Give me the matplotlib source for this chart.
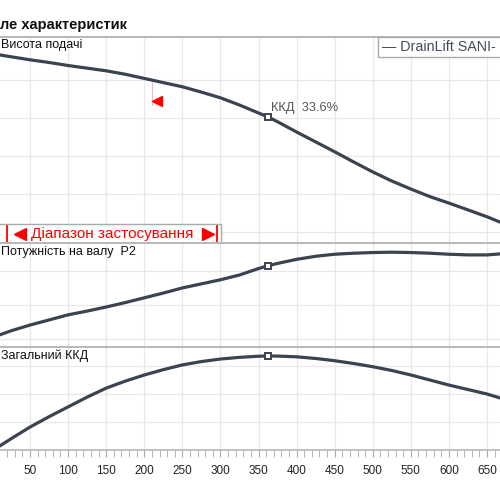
import matplotlib.pyplot as plt
from matplotlib.patches import Rectangle
from matplotlib.transforms import blended_transform_factory
from matplotlib.ticker import MultipleLocator

plt.rcParams["font.family"] = ["Liberation Sans", "DejaVu Sans"]

# flow values (x axis) and the three curves
flow = [10, 25, 50, 75, 100, 125, 150, 175, 200, 225, 250, 275, 300, 325, 350, 362,
        375, 400, 425, 450, 475, 500, 525, 550, 575, 600, 625, 650, 667]
head = [4.66, 4.61, 4.53, 4.46, 4.38, 4.31, 4.24, 4.15, 4.04, 3.93, 3.82, 3.68, 3.53, 3.34, 3.13, 3.03,
        2.90, 2.63, 2.37, 2.11, 1.84, 1.58, 1.34, 1.13, 0.93, 0.76, 0.58, 0.40, 0.26]
power = [0.12, 0.24, 0.41, 0.56, 0.71, 0.82, 0.94, 1.07, 1.21, 1.35, 1.50, 1.62, 1.74, 1.88, 2.07, 2.15,
         2.22, 2.34, 2.43, 2.49, 2.52, 2.54, 2.55, 2.54, 2.52, 2.49, 2.47, 2.47, 2.50]
eff = [1.4, 4.0, 8.2, 11.9, 15.4, 18.9, 22.1, 24.6, 26.8, 28.7, 30.4, 31.6, 32.5, 33.1, 33.5, 33.6,
       33.55, 33.3, 32.7, 31.9, 30.9, 29.75, 28.4, 26.8, 25.0, 23.2, 21.6, 20.0, 18.6]

duty_flow = 362
duty_head = 3.03
duty_power = 2.15
duty_eff = 33.6

range_min, range_max = 20, 295.5
limit_flow = 210

xticks = [50, 100, 150, 200, 250, 300, 350, 400, 450, 500, 550, 600, 650]

CURVE = "#3b4350"
GRID = "#e8e8e8"
BORDER = "#b8b8b8"

fig = plt.figure(figsize=(5, 5), dpi=100)


def px(y):
    return 1 - y / 500


def panel(top, bottom, ylim, yticks):
    ax = fig.add_axes([0, px(bottom), 1, (bottom - top) / 500])
    ax.set_xlim(10.6, 667)
    ax.set_ylim(*ylim)
    ax.set_xticks(xticks)
    ax.set_yticks(yticks)
    ax.grid(True, color=GRID, lw=0.9)
    ax.set_axisbelow(True)
    for s in ["left", "right", "bottom"]:
        ax.spines[s].set_visible(False)
    ax.spines["top"].set_color(BORDER)
    ax.spines["top"].set_linewidth(1.4)
    ax.tick_params(left=False, labelleft=False, bottom=False, labelbottom=False)
    return ax


ax1 = panel(37, 243, (-0.29, 5.13), [0, 1, 2, 3, 4])
ax2 = panel(243, 347, (-0.235, 2.82), [0, 1, 2])
ax3 = panel(347, 450, (0, 36.8), [10, 20, 30])

for ax, ys, dy in [(ax1, head, duty_head), (ax2, power, duty_power), (ax3, eff, duty_eff)]:
    ax.plot(flow, ys, color=CURVE, lw=2.3, solid_capstyle="round", solid_joinstyle="round", zorder=3)
    ax.plot([duty_flow], [dy], marker="s", ms=5, mfc="white", mec=CURVE, mew=1.4, zorder=4)

# bottom axis
ax3.spines["bottom"].set_visible(True)
ax3.spines["bottom"].set_color(BORDER)
ax3.spines["bottom"].set_linewidth(1.2)
ax3.xaxis.set_minor_locator(MultipleLocator(10))
ax3.tick_params(axis="x", which="both", bottom=True, labelbottom=True, direction="out",
                length=5, color="#aaaaaa", labelsize=8.5, labelcolor="#222222", pad=6)

# duty point label
ax1.text(duty_flow + 4, 3.26, "ККД  33.6%", fontsize=9.3, color="#555555", ha="left", va="center")

# limit marker
ax1.plot([limit_flow, limit_flow], [3.34, 3.95], color="#ffb3b3", lw=0.8)
ax1.plot([216.7], [3.45], marker="<", color="red", ms=7, mec="red")

# application range box
tr = blended_transform_factory(ax1.transData, ax1.transAxes)
ax1.add_patch(Rectangle((0, 0), 300.5, 0.092, transform=tr, facecolor="white",
                        edgecolor="#aaaaaa", lw=1, zorder=5, clip_on=False))
for xr in [range_min, range_max]:
    ax1.plot([xr, xr], [0.0, 0.083], transform=tr, color="red", lw=1.3, zorder=6)
ax1.plot([36.9], [0.046], transform=tr, marker="<", ms=8.5, color="red", mec="red", zorder=6)
ax1.plot([283.7], [0.046], transform=tr, marker=">", ms=8.5, color="red", mec="red", zorder=6)
ax1.text(158.3, 0.046, "Діапазон застосування", transform=tr,
         color="red", fontsize=11, ha="center", va="center", zorder=6)

# panel labels
fig.text(0.002, px(45), "Висота подачі", fontsize=9, ha="left", va="center", color="#111111")
fig.text(0.002, px(252), "Потужність на валу  P2", fontsize=9, ha="left", va="center", color="#111111")
fig.text(0.002, px(356), "Загальний ККД", fontsize=9, ha="left", va="center", color="#111111")

# title
fig.text(0.0, px(25), "ле характеристик", fontsize=10.5, fontweight="bold", ha="left",
         va="center", color="#111111")

# legend box (cut by the right edge)
fig.add_artist(Rectangle((378 / 500, px(57)), 0.3, 20 / 500, transform=fig.transFigure,
                         facecolor="white", edgecolor="#aaaaaa", lw=1, zorder=5))
fig.text(382 / 500, px(47), "— DrainLift SANI-", fontsize=10.3, color="#444c58",
         ha="left", va="center", zorder=6)

fig.savefig("out.png", dpi=100)
